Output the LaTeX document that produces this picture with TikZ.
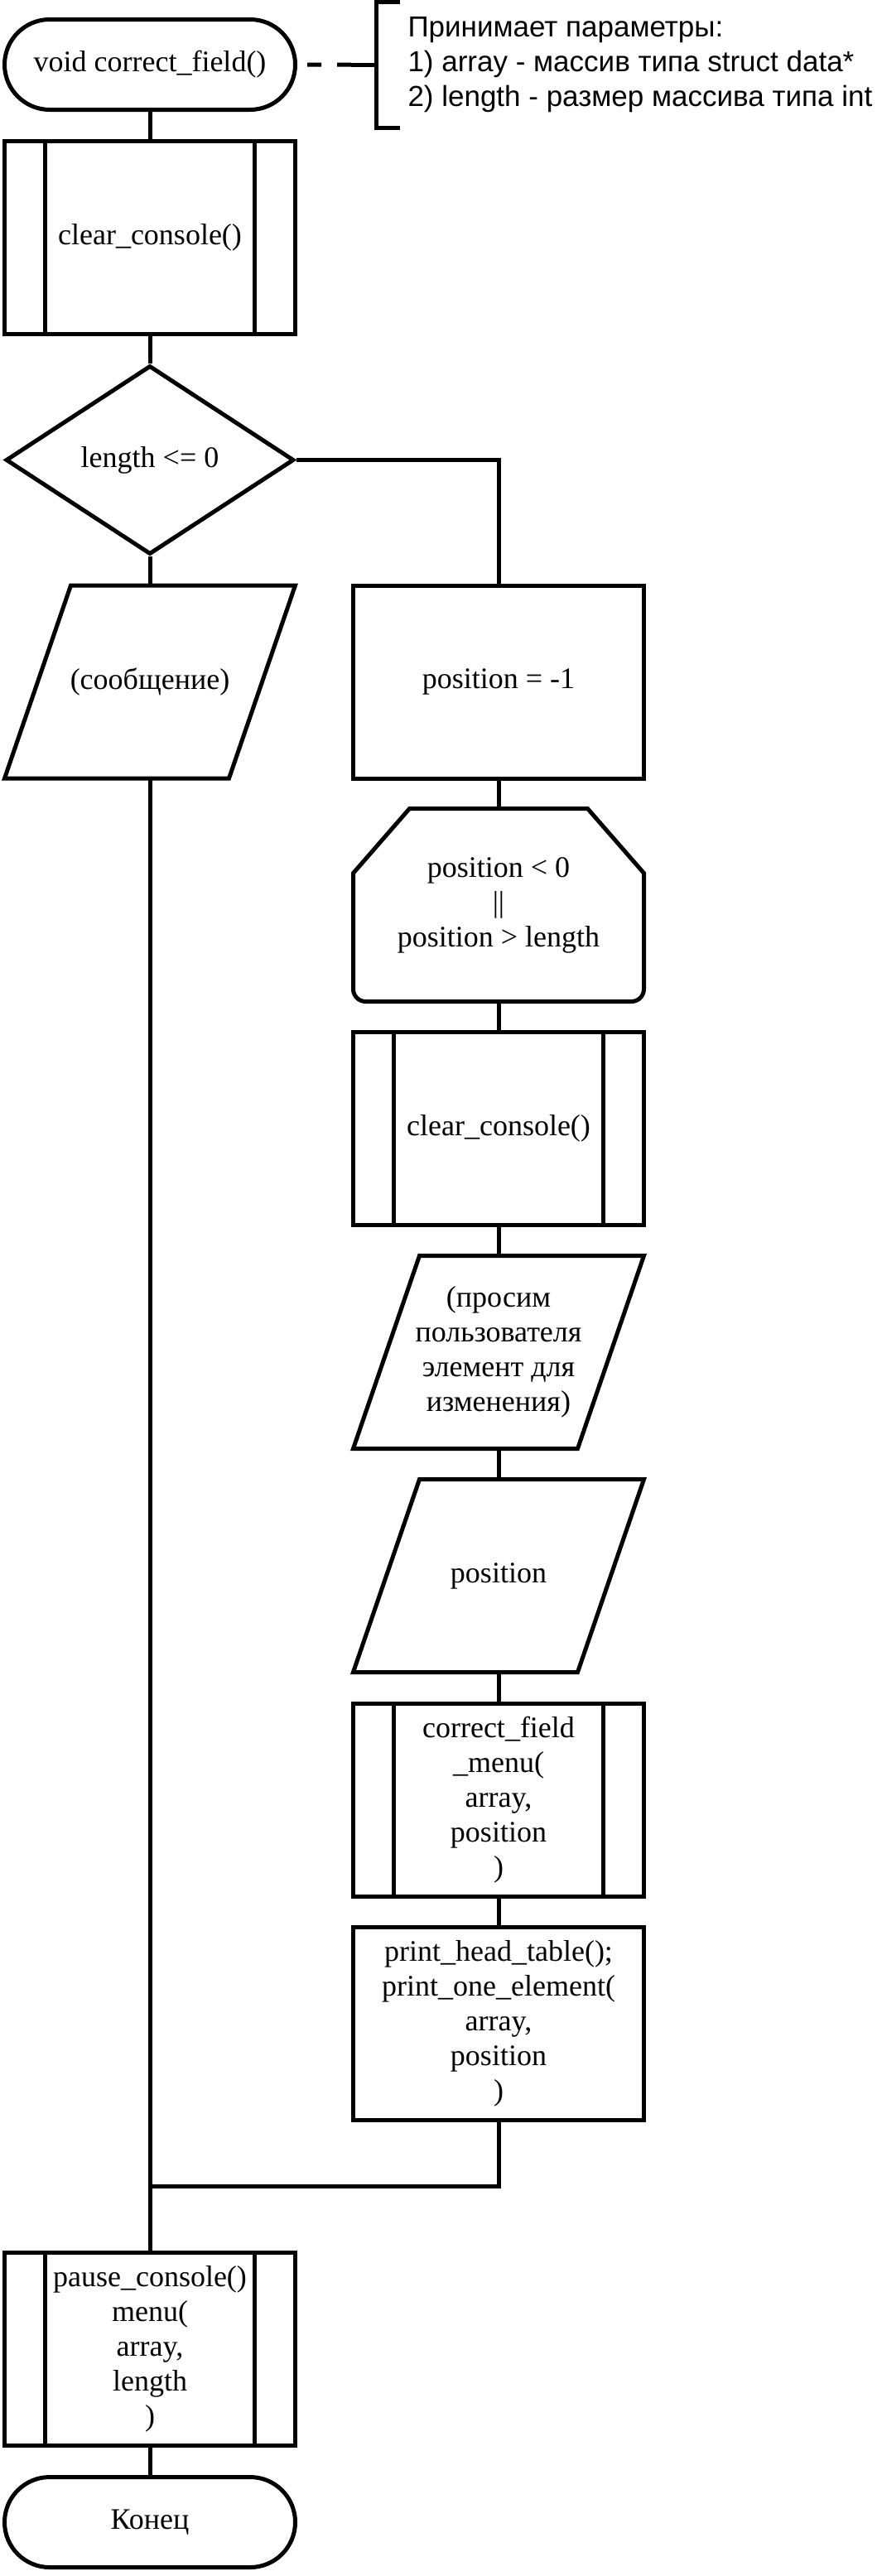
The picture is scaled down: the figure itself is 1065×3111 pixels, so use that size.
\documentclass[tikz,border=0pt]{standalone}
\usepackage{fontspec}
\setmainfont{Liberation Serif}
\newfontfamily\notefont{Liberation Sans}
\usetikzlibrary{positioning,shapes.geometric,shapes.misc}

\begin{document}
\begin{tikzpicture}[line width=5pt, node distance=33pt,
		font=\fontsize{36pt}{42pt}\selectfont,
		blk/.style={draw, align=center, inner sep=0pt, minimum width=351pt, minimum height=233pt},
		term/.style={blk, rounded rectangle, minimum height=109pt},
		proc/.style={blk, rectangle},
		sub/.style={blk, rectangle, path picture={
				\draw ([xshift=49pt]path picture bounding box.north west) -- ([xshift=49pt]path picture bounding box.south west);
				\draw ([xshift=-49pt]path picture bounding box.north east) -- ([xshift=-49pt]path picture bounding box.south east);}},
		cond/.style={blk, diamond, minimum width=348pt, minimum height=228pt},
		io/.style={blk, draw=none, outer sep=0pt},
		loopbox/.style={blk, draw=none, outer sep=0pt},
		note/.style={font=\notefont\fontsize{35pt}{42pt}\selectfont, align=left, anchor=west, inner sep=0pt, minimum height=147pt}]
			\useasboundingbox (0,0) rectangle (1065pt,-3111pt);
			
			\node[term] (start) at (181pt,-78pt) {void correct\_field()};
			\node[note] (note) at (490pt,-78pt) {Принимает параметры:\\1) array - массив типа struct data*\\2) length - размер массива типа int};
			\node[sub, below=of start] (clr) {clear\_console()};
			\node[cond, below=of clr] (chk) {length <= 0};
			\node[io, below=35pt of chk] (msg) {(сообщение)};
			\node[proc] (pos) at ([xshift=421pt]msg.center) {position = -1};
			\node[loopbox, below=34pt of pos] (lp) {position < 0\\||\\position > length};
			\node[sub, below=34pt of lp] (clr2) {clear\_console()};
			\node[io, below=35pt of clr2] (ask) {(просим\\пользователя\\элемент для\\изменения)};
			\node[io, below=37pt of ask] (inp) {position};
			\node[sub, below=35pt of inp] (fix) {correct\_field\\\_menu(\\array,\\position\\)};
			\node[proc, below=32pt of fix] (show) {print\_head\_table();\\print\_one\_element(\\array,\\position\\)};
			\node[sub] (pause) at (181pt,-2837pt) {pause\_console()\\menu(\\array,\\length\\)};
			\node[term, below=of pause] (end) {Конец};
			
			% data blocks
			\foreach \n in {msg,ask,inp}
				\draw ([xshift=80pt]\n.north west) -- (\n.north east) -- ([xshift=-80pt]\n.south east) -- (\n.south west) -- cycle;
			
			% loop start
			\draw ([xshift=68pt]lp.north west) -- ([xshift=-68pt]lp.north east) -- ([yshift=-78pt]lp.north east)
				-- ([yshift=15pt]lp.south east) arc[start angle=0, end angle=-90, radius=15pt]
				-- ([xshift=15pt]lp.south west) arc[start angle=270, end angle=180, radius=15pt]
				-- ([yshift=-78pt]lp.north west) -- cycle;
			
			\draw ([xshift=-7pt]note.north west) -| ([xshift=-36pt]note.west) |- ([xshift=-7pt]note.south west);
			\draw ([xshift=-36pt]note.west) -- ([xshift=-66pt]note.west) coordinate (arm);
			\draw[dash pattern=on 17pt off 19pt] (arm) -- (start);
			
			\draw (start) -- (clr);
			\draw (clr) -- (chk);
			\draw (chk) -- (msg);
			\draw (chk) -| (pos);
			\draw (pos) -- (lp);
			\draw (lp) -- (clr2);
			\draw (clr2) -- (ask);
			\draw (ask) -- (inp);
			\draw (inp) -- (fix);
			\draw (fix) -- (show);
			\coordinate[below=78pt of show] (jn);
			\draw (show) -- (jn) -- (jn -| msg);
			\draw (msg) -- (pause);
			\draw (pause) -- (end);
\end{tikzpicture}
\end{document}
